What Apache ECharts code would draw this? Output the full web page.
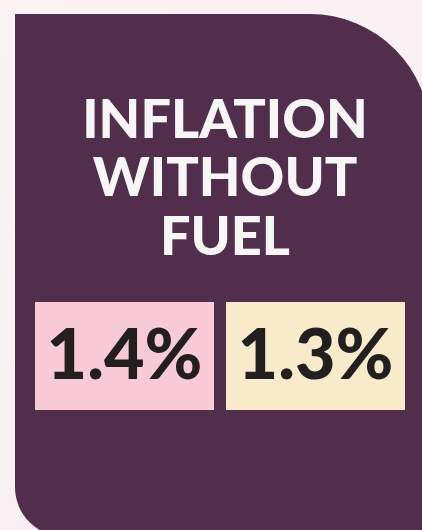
<!DOCTYPE html>
<html>
<head>
<meta charset="utf-8">
<script src="https://cdn.jsdelivr.net/npm/echarts@6/dist/echarts.min.js"></script>
<style>
html,body{margin:0;padding:0;background:#fbf3f5;}
#chart{width:422px;height:530px;}
</style>
</head>
<body>
<div id="chart"></div>
<script>
// Data
const titleLines = ['INFLATION', 'WITHOUT', 'FUEL'];
const categories = ['A', 'B'];
const values = [1.4, 1.3];
const boxColors = ['#f9cbd6', '#f8ebc9'];

const chart = echarts.init(document.getElementById('chart'), null, {renderer: 'canvas'});

const option = {
  backgroundColor: {
    type: 'linear', x: 0, y: 0, x2: 1, y2: 1,
    colorStops: [{offset: 0, color: '#fcf3f5'}, {offset: 1, color: '#f7eef2'}]
  },
  animation: false,
  graphic: [{
    type: 'rect',
    z: -10,
    shape: {x: 15, y: 14, width: 415, height: 523, r: [0, 120, 0, 50]},
    style: {fill: '#502e4c'}
  }],
  title: {
    text: titleLines.join('\n'),
    left: 220,
    top: 86,
    textAlign: 'center',
    textStyle: {
      color: '#f7f5f5',
      fontFamily: 'Lato',
      fontWeight: 900,
      fontSize: 54,
      lineHeight: 58.5
    }
  },
  grid: {left: 35, width: 382, top: 302, height: 108},
  xAxis: {type: 'category', data: categories, show: false, boundaryGap: true},
  yAxis: {type: 'value', min: 0, max: 1, show: false},
  series: [{
    type: 'custom',
    data: values.map((v, i) => [i, v]),
    renderItem: function (params, api) {
      const i = api.value(0);
      const band = api.size([1, 0])[0];
      const center = api.coord([i, 1]);
      const bottom = api.coord([i, 0]);
      const x0 = center[0] - band / 2;
      const w = band - 12;
      const top = center[1];
      const h = bottom[1] - top;
      return {
        type: 'group',
        children: [{
          type: 'rect',
          shape: {x: x0, y: top, width: w, height: h},
          style: {fill: boxColors[i]}
        }, {
          type: 'text',
          style: {
            x: x0 + w / 2,
            y: top + h / 2,
            text: api.value(1).toFixed(1) + '%',
            align: 'center',
            verticalAlign: 'middle',
            fill: '#231f20',
            font: '900 70px Lato'
          }
        }]
      };
    }
  }]
};
chart.setOption(option);
</script>
</body>
</html>
